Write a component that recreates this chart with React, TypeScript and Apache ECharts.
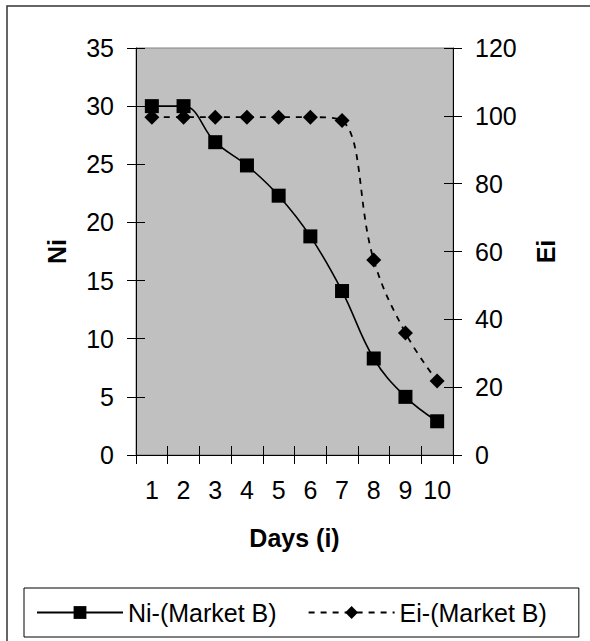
import React, { useEffect, useRef } from "react";
import * as echarts from "echarts";

const days = ["1", "2", "3", "4", "5", "6", "7", "8", "9", "10"];
const niMarketB = [30, 30, 26.9, 24.9, 22.3, 18.8, 14.1, 8.3, 5.0, 2.9];
const eiMarketB = [99.6, 99.6, 99.6, 99.6, 99.6, 99.6, 98.6, 57.5, 36, 21.8];
const niTicks = { min: 0, max: 35, interval: 5 };
const eiTicks = { min: 0, max: 120, interval: 20 };

const FONT = "'Liberation Sans', Arial, sans-serif";

export default function App() {
  const ref = useRef<HTMLDivElement>(null);
  useEffect(() => {
    if (!ref.current) return;
    const chart = echarts.init(ref.current, null, { renderer: "svg" });
    const tickOut = { show: true, inside: false, length: 9, lineStyle: { color: "#000", width: 1 } };
    const tickIn = { show: true, inside: true, length: 9, lineStyle: { color: "#000", width: 1 } };
    const axisLine = { show: true, onZero: false, lineStyle: { color: "#000", width: 1 } };
    const label = { fontSize: 25, color: "#000", fontFamily: FONT };
    chart.setOption({
      animation: false,
      textStyle: { fontFamily: FONT },
      graphic: [
        {
          type: "rect",
          shape: { x: 7, y: 6, width: 700, height: 700 },
          style: { fill: "none", stroke: "#333", lineWidth: 1.5 },
          silent: true,
        },
      ],
      grid: {
        left: 136,
        right: 137,
        top: 48,
        bottom: 186,
        show: true,
        backgroundColor: "#c0c0c0",
        borderColor: "#808080",
        borderWidth: 1,
      },
      legend: {
        left: 24,
        top: 588,
        padding: [12, 32, 12, 12],
        borderColor: "#000",
        borderWidth: 1,
        itemWidth: 86,
        itemHeight: 16,
        itemGap: 31,
        textStyle: { fontSize: 25, color: "#000", fontFamily: FONT },
        data: ["Ni-(Market B)", "Ei-(Market B)"],
      },
      xAxis: [
        {
          type: "category",
          data: days,
          boundaryGap: true,
          position: "bottom",
          axisLine,
          axisTick: tickOut,
          axisLabel: { ...label, margin: 22, interval: 0 },
          name: "Days (i)",
          nameLocation: "middle",
          nameGap: 70,
          nameTextStyle: { fontSize: 25, fontWeight: "bold", color: "#000", fontFamily: FONT },
          splitLine: { show: false },
        },
        {
          type: "category",
          data: days,
          boundaryGap: true,
          position: "bottom",
          axisLine: { show: false },
          axisTick: tickIn,
          axisLabel: { show: false },
          splitLine: { show: false },
        },
      ],
      yAxis: [
        {
          type: "value",
          position: "left",
          ...niTicks,
          axisLine,
          axisTick: tickOut,
          axisLabel: { ...label, margin: 22 },
          splitLine: { show: false },
          name: "Ni",
          nameLocation: "middle",
          nameRotate: 90,
          nameGap: 67,
          nameTextStyle: { fontSize: 25, fontWeight: "bold", color: "#000", fontFamily: FONT },
        },
        {
          type: "value",
          position: "right",
          ...eiTicks,
          axisLine,
          axisTick: tickOut,
          axisLabel: { ...label, margin: 22 },
          splitLine: { show: false },
          name: "Ei",
          nameLocation: "middle",
          nameRotate: 90,
          nameGap: 80,
          nameTextStyle: { fontSize: 25, fontWeight: "bold", color: "#000", fontFamily: FONT },
        },
        {
          type: "value",
          position: "left",
          ...niTicks,
          axisLine: { show: false },
          axisTick: tickIn,
          axisLabel: { show: false },
          splitLine: { show: false },
        },
        {
          type: "value",
          position: "right",
          ...eiTicks,
          axisLine: { show: false },
          axisTick: tickIn,
          axisLabel: { show: false },
          splitLine: { show: false },
        },
      ],
      series: [
        {
          name: "Ni-(Market B)",
          type: "line",
          xAxisIndex: 0,
          yAxisIndex: 0,
          data: niMarketB,
          smooth: 0.4,
          symbol: "rect",
          symbolSize: 14,
          itemStyle: { color: "#000" },
          lineStyle: { color: "#000", width: 1.6, type: "solid" },
        },
        {
          name: "Ei-(Market B)",
          type: "line",
          xAxisIndex: 0,
          yAxisIndex: 1,
          data: eiMarketB,
          smooth: 0.4,
          symbol: "diamond",
          symbolSize: 15,
          itemStyle: { color: "#000" },
          lineStyle: { color: "#000", width: 1.8, type: [6, 6] },
        },
      ],
    });
    return () => chart.dispose();
  }, []);
  return (
    <div
      ref={ref}
      style={{ position: "absolute", left: 0, top: 0, width: 590, height: 641 }}
    />
  );
}
